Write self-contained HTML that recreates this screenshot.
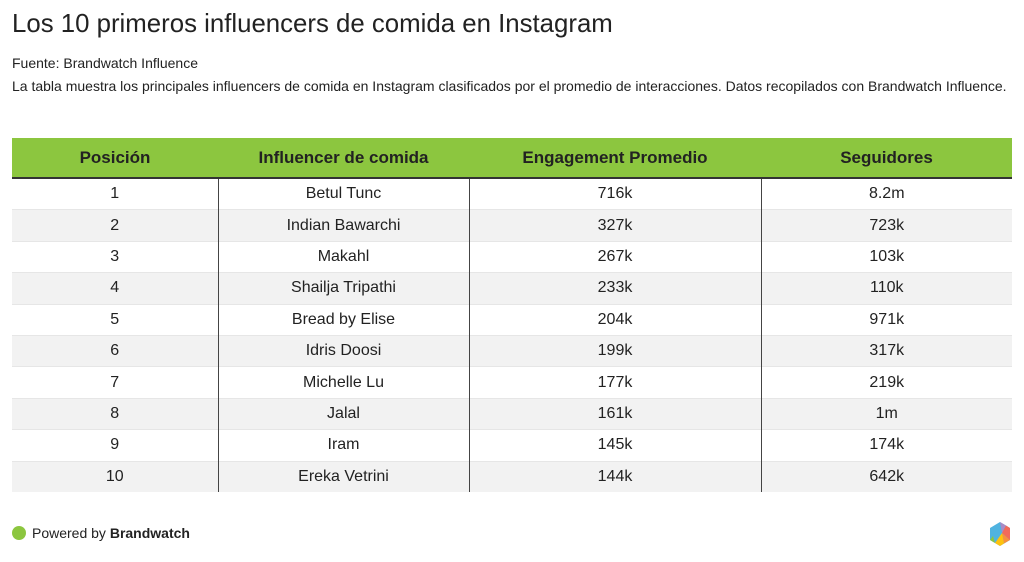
<!DOCTYPE html>
<html><head><meta charset="utf-8"><style>
body{margin:0;width:1024px;height:562px;background:#fff;font-family:"Liberation Sans",sans-serif;color:#222;position:relative;overflow:hidden}
h1{position:absolute;left:12px;top:10px;margin:0;font-size:25.8px;font-weight:normal;color:#222}
.s1{position:absolute;left:12px;top:55px;font-size:14px}
.s2{position:absolute;left:12px;top:78px;font-size:14px}
table{position:absolute;left:12px;top:138px;width:1000px;border-collapse:collapse;font-size:16px}
th{background:#8cc63f;height:39px;font-weight:bold;font-size:17px;padding:0;border-bottom:2px solid #333}
td{height:30.4px;padding:0;text-align:center;border-top:1px solid #e6e6e6}
tr:nth-child(odd) td{background:#f2f2f2}
td+td{border-left:1.5px solid #444}
.f{position:absolute;left:12px;top:525px;font-size:14px;display:flex;align-items:center}
.dot{width:14px;height:14px;border-radius:50%;background:#8cc63f;margin-right:6px}
</style></head><body>
<h1>Los 10 primeros influencers de comida en Instagram</h1>
<div class="s1">Fuente: Brandwatch Influence</div>
<div class="s2">La tabla muestra los principales influencers de comida en Instagram clasificados por el promedio de interacciones. Datos recopilados con Brandwatch Influence.</div>
<table>
<colgroup><col style="width:206px"><col style="width:251px"><col style="width:292px"><col style="width:251px"></colgroup>
<tr><th>Posición</th><th>Influencer de comida</th><th>Engagement Promedio</th><th>Seguidores</th></tr>
<tr><td>1</td><td>Betul Tunc</td><td>716k</td><td>8.2m</td></tr>
<tr><td>2</td><td>Indian Bawarchi</td><td>327k</td><td>723k</td></tr>
<tr><td>3</td><td>Makahl</td><td>267k</td><td>103k</td></tr>
<tr><td>4</td><td>Shailja Tripathi</td><td>233k</td><td>110k</td></tr>
<tr><td>5</td><td>Bread by Elise</td><td>204k</td><td>971k</td></tr>
<tr><td>6</td><td>Idris Doosi</td><td>199k</td><td>317k</td></tr>
<tr><td>7</td><td>Michelle Lu</td><td>177k</td><td>219k</td></tr>
<tr><td>8</td><td>Jalal</td><td>161k</td><td>1m</td></tr>
<tr><td>9</td><td>Iram</td><td>145k</td><td>174k</td></tr>
<tr><td>10</td><td>Ereka Vetrini</td><td>144k</td><td>642k</td></tr>
</table>
<div class="f"><span class="dot"></span>Powered by&nbsp;<b>Brandwatch</b></div>
<svg style="position:absolute;left:988px;top:521px" width="24" height="26" viewBox="0 0 24 26">
<polygon points="12,1 22,7 22,19 12,25 2,19 2,7" fill="#4fb3e0"/>
<polygon points="12,1 18,4.5 14,12" fill="#a98bc6"/>
<polygon points="18,4.5 22,7 22,19 14,12" fill="#f26a5a"/>
<polygon points="14,12 22,19 16,22.5" fill="#f7913d"/>
<polygon points="14,12 16,22.5 12,25 7,22 " fill="#ffc20e"/>
<polygon points="2,19 7,22 5,15" fill="#8cc63f"/>
</svg>
</body></html>
